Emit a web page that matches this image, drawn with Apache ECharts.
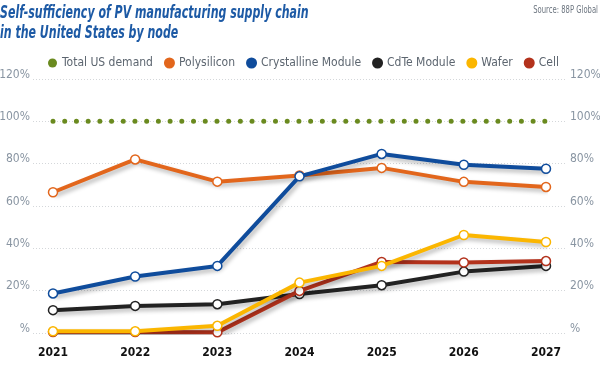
<!DOCTYPE html>
<html>
<head>
<meta charset="utf-8">
<script src="https://cdn.jsdelivr.net/npm/echarts@6/dist/echarts.min.js"></script>
<style>html,body{margin:0;padding:0;background:#fff}#c{width:600px;height:381px}</style>
</head>
<body>
<div id="c"></div>
<script>
const years = ['2021','2022','2023','2024','2025','2026','2027'];
const totalDemand = [100, 100, 100, 100, 100, 100, 100];
const polysilicon = [66.5, 82, 71.5, 74.4, 78, 71.4, 69];
const crystalline = [18.7, 26.7, 31.7, 74, 84.6, 79.5, 77.6];
const cdte = [10.8, 12.8, 13.6, 18.4, 22.6, 29, 31.7];
const wafer = [0.8, 0.8, 3.4, 23.8, 31.7, 46.3, 43];
const cell = [0.5, 0.5, 0.3, 19.9, 33.6, 33.3, 34];
const yTicks = [0, 20, 40, 60, 80, 100, 120];

const FONT = "'Liberation Sans Narrow', 'DejaVu Sans Condensed', sans-serif";
const colors = {
  total: '#6a8a1f', poly: '#e2661c', crys: '#0f4c9c', cdte: '#222222', wafer: '#fbb600', cell: '#b3321c'
};
const shadow = {shadowColor: 'rgba(0,0,0,0.28)', shadowBlur: 4, shadowOffsetX: 2, shadowOffsetY: 3};
function lineSeries(name, data, color, z) {
  return {
    name, type: 'line', data, xAxisIndex: 1, yAxisIndex: 2, z,
    symbol: 'circle', symbolSize: 9,
    itemStyle: {color: '#ffffff', borderColor: color, borderWidth: 1.5},
    lineStyle: Object.assign({color, width: 4}, shadow),
    emphasis: {disabled: true}
  };
}
const yLabel = v => (v === 0 ? '%' : v + '%');
const yLabelStyle = {formatter: yLabel, fontFamily: FONT, fontSize: 12, color: '#8995a2', margin: 3,
                     verticalAlign: 'bottom', lineHeight: 9};
const chart = echarts.init(document.getElementById('c'), null, {renderer: 'canvas'});
chart.setOption({
  animation: false,
  backgroundColor: '#ffffff',
  graphic: [
    {type: 'text', left: 0, top: 4, scaleX: 0.72, z: 10,
     style: {text: 'Self-sufficiency of PV manufacturing supply chain\nin the United States by node',
             font: "italic bold 17px " + FONT, fill: '#1d5aa5', lineHeight: 20}},
    {type: 'text', x: 598, y: 5, scaleX: 0.76, z: 10,
     style: {text: 'Source: 88P Global', font: "10px " + FONT, fill: '#6d7680', align: 'right', verticalAlign: 'top'}}
  ],
  legend: {
    left: 43, top: 52, itemWidth: 9, itemHeight: 9, itemGap: 11, icon: 'circle',
    textStyle: {fontFamily: FONT, fontSize: 12, color: '#5d6670'},
    data: [
      {name: 'Total US demand', itemStyle: {color: colors.total}},
      {name: 'Polysilicon', itemStyle: {color: colors.poly}},
      {name: 'Crystalline Module', itemStyle: {color: colors.crys}},
      {name: 'CdTe Module', itemStyle: {color: colors.cdte}},
      {name: 'Wafer', itemStyle: {color: colors.wafer}},
      {name: 'Cell', itemStyle: {color: colors.cell}}
    ]
  },
  grid: [
    {left: 33, right: 33, top: 79, bottom: 48, outerBoundsMode: 'none', containLabel: false},
    {left: 53, right: 54, top: 79, bottom: 48, outerBoundsMode: 'none', containLabel: false}
  ],
  xAxis: [
    {type: 'value', gridIndex: 0, min: 0, max: 1, show: false},
    {type: 'category', gridIndex: 1, data: years, boundaryGap: false,
     axisLine: {show: false}, axisTick: {show: false}, splitLine: {show: false},
     axisLabel: {fontFamily: FONT, fontSize: 12, fontWeight: 'bold', color: '#111', margin: 14}}
  ],
  yAxis: [
    {type: 'value', gridIndex: 0, position: 'left', min: yTicks[0], max: yTicks[yTicks.length - 1], interval: 20,
     axisLine: {show: false}, axisTick: {show: false}, axisLabel: yLabelStyle,
     splitLine: {show: true, lineStyle: {color: '#d4d7da', type: [1, 2], width: 1}}},
    {type: 'value', gridIndex: 0, position: 'right', min: yTicks[0], max: yTicks[yTicks.length - 1], interval: 20,
     axisLine: {show: false}, axisTick: {show: false}, splitLine: {show: false}, axisLabel: yLabelStyle},
    {type: 'value', gridIndex: 1, min: yTicks[0], max: yTicks[yTicks.length - 1], show: false}
  ],
  series: [
    {name: 'Total US demand', type: 'line', data: totalDemand, xAxisIndex: 1, yAxisIndex: 2, z: 2,
     showSymbol: false, symbol: 'none', itemStyle: {color: colors.total},
     lineStyle: {color: colors.total, width: 5, type: [0.01, 11.7], cap: 'round'}, emphasis: {disabled: true}},
    lineSeries('Polysilicon', polysilicon, colors.poly, 3),
    lineSeries('Crystalline Module', crystalline, colors.crys, 4),
    lineSeries('CdTe Module', cdte, colors.cdte, 5),
    lineSeries('Wafer', wafer, colors.wafer, 7),
    lineSeries('Cell', cell, colors.cell, 6)
  ]
});
</script>
</body>
</html>
